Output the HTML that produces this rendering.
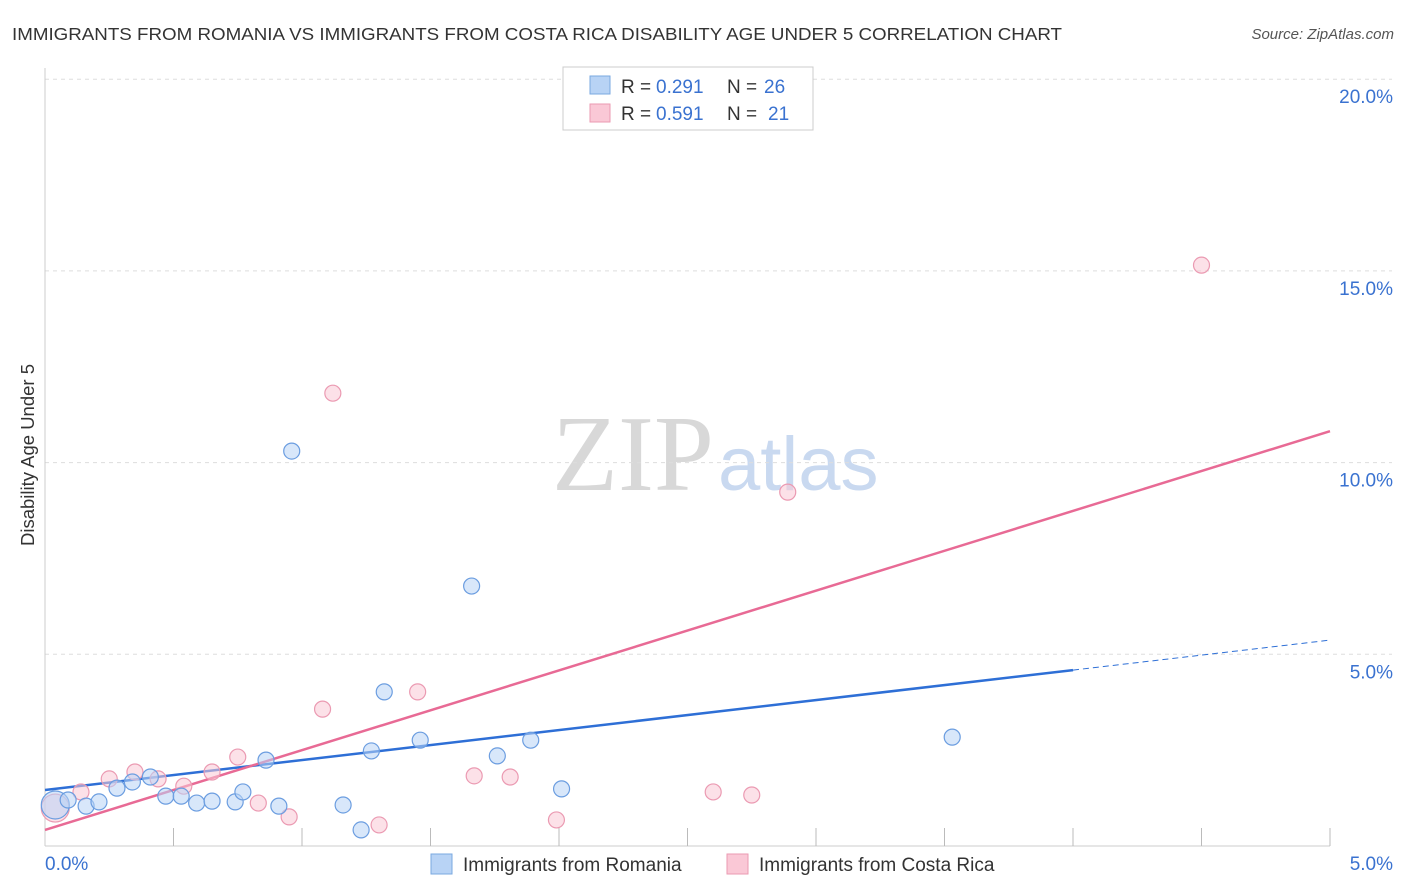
<!DOCTYPE html>
<html><head><meta charset="utf-8"><style>
body{margin:0;background:#fff;font-family:"Liberation Sans",sans-serif}
svg{display:block}
</style></head><body>
<svg width="1406" height="892" xmlns="http://www.w3.org/2000/svg">
<text x="12" y="40" font-size="17.5" fill="#333" textLength="1050" lengthAdjust="spacingAndGlyphs">IMMIGRANTS FROM ROMANIA VS IMMIGRANTS FROM COSTA RICA DISABILITY AGE UNDER 5 CORRELATION CHART</text>
<text x="1394" y="39" font-size="15" fill="#555" font-style="italic" text-anchor="end">Source: ZipAtlas.com</text>
<text x="714" y="490" font-size="108" fill="#d8d8d8" text-anchor="end" font-family="Liberation Serif,serif">ZIP</text>
<text x="718" y="490" font-size="76" fill="#c9d9f0">atlas</text>
<g id="grid"></g><g id="axes"></g><g id="lines"></g><g id="pts"></g>
<text transform="translate(34,455) rotate(-90)" font-size="18.5" fill="#333" text-anchor="middle">Disability Age Under 5</text>
<g>
<rect x="563" y="67" width="250" height="63" fill="#fff" stroke="#ccc"/>
<rect x="590" y="76" width="20" height="18" fill="#b8d3f5" stroke="#7aa8e0"/>
<text x="621" y="93" font-size="19" fill="#333">R =</text>
<text x="656" y="93" font-size="19" fill="#3a72d0">0.291</text>
<text x="727" y="93" font-size="19" fill="#333">N =</text>
<text x="764" y="93" font-size="19" fill="#3a72d0">26</text>
<rect x="590" y="104" width="20" height="18" fill="#fac8d6" stroke="#eb9ab2"/>
<text x="621" y="120" font-size="19" fill="#333">R =</text>
<text x="656" y="120" font-size="19" fill="#3a72d0">0.591</text>
<text x="727" y="120" font-size="19" fill="#333">N =</text>
<text x="768" y="120" font-size="19" fill="#3a72d0">21</text>
</g>
<g>
<rect x="431" y="854" width="21" height="20" fill="#b8d3f5" stroke="#7aa8e0"/>
<text x="463" y="871" font-size="19" fill="#333">Immigrants from Romania</text>
<rect x="727" y="854" width="21" height="20" fill="#fac8d6" stroke="#eb9ab2"/>
<text x="759" y="871" font-size="19" fill="#333">Immigrants from Costa Rica</text>
</g>
</svg>
<script>
const xTicks=[0,0.5,1,1.5,2,2.5,3,3.5,4,4.5,5];
const yTicks=[5,10,15,20];
const romaniaX=[0.04,0.09,0.16,0.21,0.28,0.34,0.41,0.47,0.53,0.59,0.65,0.74,0.77,0.86,0.91,0.96,1.16,1.23,1.27,1.32,1.46,1.66,1.76,1.89,2.01,3.53];
const romaniaY=[1.07,1.20,1.04,1.15,1.51,1.67,1.80,1.30,1.30,1.12,1.17,1.15,1.41,2.24,1.04,10.30,1.07,0.42,2.48,4.02,2.76,6.78,2.35,2.76,1.49,2.84];
const costaX=[0.04,0.14,0.25,0.35,0.44,0.54,0.65,0.75,0.83,0.95,1.08,1.12,1.30,1.45,1.67,1.81,1.99,2.60,2.75,2.89,4.50];
const costaY=[0.99,1.41,1.75,1.93,1.75,1.56,1.93,2.32,1.12,0.76,3.57,11.81,0.55,4.02,1.83,1.80,0.68,1.41,1.33,9.23,15.15];
const romaniaTrend=[1.46,5.37];
const costaTrend=[0.42,10.82];
const X=v=>45+v/5*1285, Y=v=>846-v/5*191.7;
const NS='http://www.w3.org/2000/svg';
function mk(p,t,a){const e=document.createElementNS(NS,t);for(const k in a)e.setAttribute(k,a[k]);document.getElementById(p).appendChild(e);return e;}
yTicks.forEach(t=>{
 const l=mk('grid','line',{x1:45,x2:1392,y1:Y(t),y2:Y(t),stroke:'#ddd','stroke-dasharray':'4,4'});
 
 
 const tx=mk('grid','text',{x:1393,y:Y(t)+24,'font-size':19,fill:'#3a72d0','text-anchor':'end'});
 tx.textContent=t.toFixed(1)+'%';
 
 
});
const ya=mk('axes','line',{x1:45,x2:45,y1:68,y2:846,stroke:'#ccc'});


const xa=mk('axes','line',{x1:45,x2:1330,y1:846,y2:846,stroke:'#ccc'});


xTicks.forEach((t,i)=>{ if(i>0){const l=mk('axes','line',{x1:X(t),x2:X(t),y1:828,y2:846,stroke:'#bbb'});
 
 }});
[[0,45,'start'],[5,1393,'end']].forEach(([v,x,a])=>{const tx=mk('axes','text',{x:x,y:870,'font-size':19,fill:'#3a72d0','text-anchor':a});
 tx.textContent=v.toFixed(1)+'%';
 
 });
function pts(xs,ys,fill,stroke,name){xs.forEach((x,i)=>{const c=mk('pts','circle',{cx:X(x),cy:Y(ys[i]),r:i==0?14:8,fill:fill,'fill-opacity':0.55,stroke:stroke,'stroke-width':1.2});
 
 });}
pts(costaX,costaY,'#fac8d6','#eb9ab2','costa-rica-point');
pts(romaniaX,romaniaY,'#b8d3f5','#6b9de0','romania-point');
const yb=x=>romaniaTrend[0]+(romaniaTrend[1]-romaniaTrend[0])*x/5;
const bl=mk('lines','line',{x1:X(0),y1:Y(yb(0)),x2:X(4),y2:Y(yb(4)),stroke:'#2e6fd6','stroke-width':2.5});


const bd=mk('lines','line',{x1:X(4),y1:Y(yb(4)),x2:X(5),y2:Y(yb(5)),stroke:'#2e6fd6','stroke-width':1,'stroke-dasharray':'6,4'});


const pl=mk('lines','line',{x1:X(0),y1:Y(costaTrend[0]),x2:X(5),y2:Y(costaTrend[1]),stroke:'#e86a95','stroke-width':2.5});


</script>
</body></html>
